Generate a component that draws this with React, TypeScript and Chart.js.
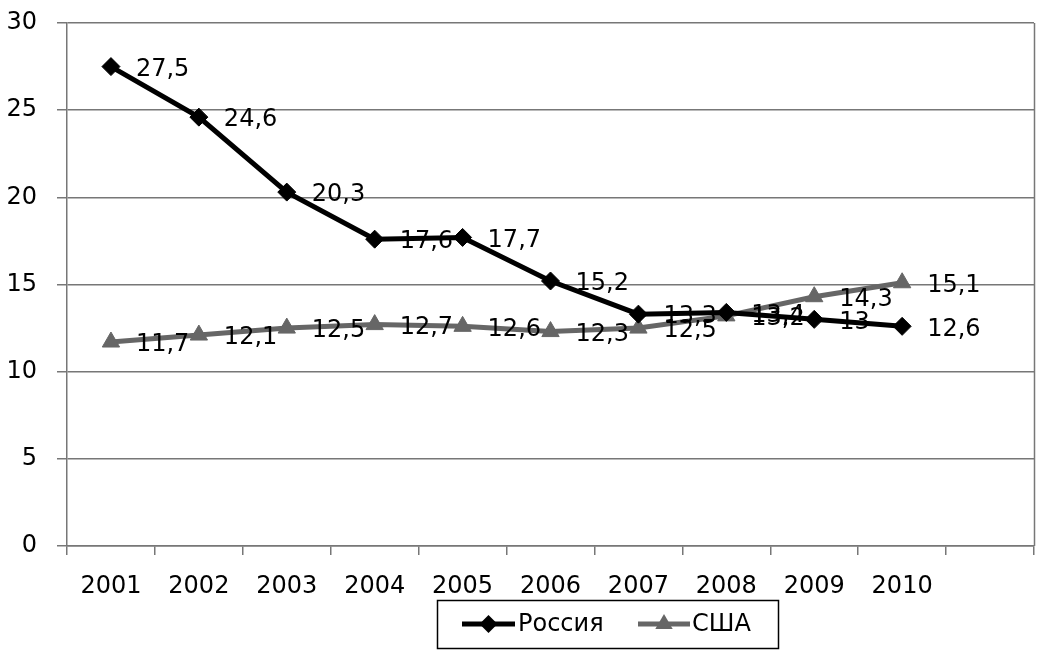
import React, { useEffect, useRef } from "react";
import { Chart, registerables } from "chart.js";

Chart.register(...registerables);

const categories = ["2001", "2002", "2003", "2004", "2005", "2006", "2007", "2008", "2009", "2010", ""];
const russia = [27.5, 24.6, 20.3, 17.6, 17.7, 15.2, 13.3, 13.4, 13, 12.6];
const usa = [11.7, 12.1, 12.5, 12.7, 12.6, 12.3, 12.5, 13.2, 14.3, 15.1];
const seriesNames = ["Россия", "США"];
const colors = ["#000000", "#666666"];

const FONT = "'DejaVu Sans', 'Liberation Sans', Arial, sans-serif";
const FSIZE = 24;

const fmt = (v: number) => String(v).replace(".", ",");

const labelsPlugin = {
  id: "dataLabels",
  afterDatasetsDraw(chart: any) {
    const ctx = chart.ctx;
    ctx.save();
    ctx.font = `${FSIZE}px ${FONT}`;
    ctx.fillStyle = "#000";
    ctx.textAlign = "left";
    ctx.textBaseline = "middle";
    chart.data.datasets.forEach((ds: any, i: number) => {
      const meta = chart.getDatasetMeta(i);
      meta.data.forEach((pt: any, j: number) => {
        const v = ds.data[j];
        ctx.fillText(fmt(v), pt.x + 25, pt.y + 3);
      });
    });
    ctx.restore();
  },
};

function drawMarker(ctx: CanvasRenderingContext2D, style: string, x: number, y: number, r: number) {
  ctx.beginPath();
  if (style === "rectRot") {
    ctx.moveTo(x, y - r);
    ctx.lineTo(x + r, y);
    ctx.lineTo(x, y + r);
    ctx.lineTo(x - r, y);
  } else {
    ctx.moveTo(x, y - r);
    ctx.lineTo(x + r * 0.87, y + r * 0.5);
    ctx.lineTo(x - r * 0.87, y + r * 0.5);
  }
  ctx.closePath();
  ctx.fill();
}

const framePlugin = {
  id: "frame",
  afterDraw(chart: any) {
    const { ctx, chartArea } = chart;
    ctx.save();
    ctx.strokeStyle = "#777";
    ctx.lineWidth = 1.5;
    ctx.beginPath();
    ctx.moveTo(chartArea.right + 0.5, chartArea.top);
    ctx.lineTo(chartArea.right + 0.5, chartArea.bottom);
    ctx.stroke();

    const lx = 437, ly = 600, lw = 341, lh = 48;
    ctx.strokeStyle = "#000";
    ctx.lineWidth = 1.5;
    ctx.strokeRect(lx + 0.5, ly + 0.5, lw, lh);
    const cy = ly + lh / 2;
    const items = [
      { x0: 462, x1: 515, tx: 518, style: "rectRot", r: 9, w: 5 },
      { x0: 638, x1: 690, tx: 692, style: "triangle", r: 10, w: 5 },
    ];
    ctx.font = `${FSIZE}px ${FONT}`;
    ctx.textBaseline = "middle";
    ctx.textAlign = "left";
    items.forEach((it, i) => {
      ctx.strokeStyle = colors[i];
      ctx.lineWidth = it.w;
      ctx.beginPath();
      ctx.moveTo(it.x0, cy);
      ctx.lineTo(it.x1, cy);
      ctx.stroke();
      ctx.fillStyle = colors[i];
      drawMarker(ctx, it.style, (it.x0 + it.x1) / 2, cy, it.r);
      ctx.fillStyle = "#000";
      ctx.fillText(seriesNames[i], it.tx, cy + 1);
    });
    ctx.restore();
  },
};

export default function App() {
  const ref = useRef<HTMLCanvasElement | null>(null);
  useEffect(() => {
    document.body.style.margin = "0";
    const canvas = ref.current!;
    const chart = new Chart(canvas, {
      type: "line",
      data: {
        labels: categories,
        datasets: [
          {
            label: seriesNames[0],
            data: russia,
            borderColor: colors[0],
            backgroundColor: colors[0],
            borderWidth: 5,
            pointStyle: "rectRot",
            pointRadius: 9,
            pointBorderWidth: 1,
            tension: 0,
          },
          {
            label: seriesNames[1],
            data: usa,
            borderColor: colors[1],
            backgroundColor: colors[1],
            borderWidth: 5,
            pointStyle: "triangle",
            pointRadius: 10,
            pointBorderWidth: 1,
            tension: 0,
          },
        ],
      },
      options: {
        responsive: false,
        animation: false,
        layout: { padding: { top: 23, right: 10, left: 0, bottom: 0 } },
        plugins: { legend: { display: false }, tooltip: { enabled: false } },
        scales: {
          x: {
            offset: true,
            grid: {
              offset: true,
              drawOnChartArea: false,
              drawTicks: true,
              tickLength: 9,
              color: "#777",
              lineWidth: 1.5,
            },
            border: { color: "#777", width: 1.5 },
            ticks: {
              color: "#000",
              font: { family: FONT, size: FSIZE },
              padding: 17,
              maxRotation: 0,
              autoSkip: false,
            },
            afterFit(scale: any) {
              scale.height = 116;
              scale.paddingLeft = 0;
              scale.paddingRight = 0;
            },
          },
          y: {
            min: 0,
            max: 30,
            ticks: {
              stepSize: 5,
              color: "#000",
              font: { family: FONT, size: FSIZE },
              padding: 20,
            },
            grid: { color: "#777", lineWidth: 1.5, tickLength: 10 },
            border: { color: "#777", width: 1.5 },
            afterFit(scale: any) {
              scale.width = 67;
              scale.paddingTop = 0;
              scale.paddingBottom = 0;
            },
          },
        },
      },
      plugins: [labelsPlugin, framePlugin],
    });
    return () => chart.destroy();
  }, []);
  return <canvas ref={ref} width={1045} height={662} style={{ display: "block" }} />;
}
